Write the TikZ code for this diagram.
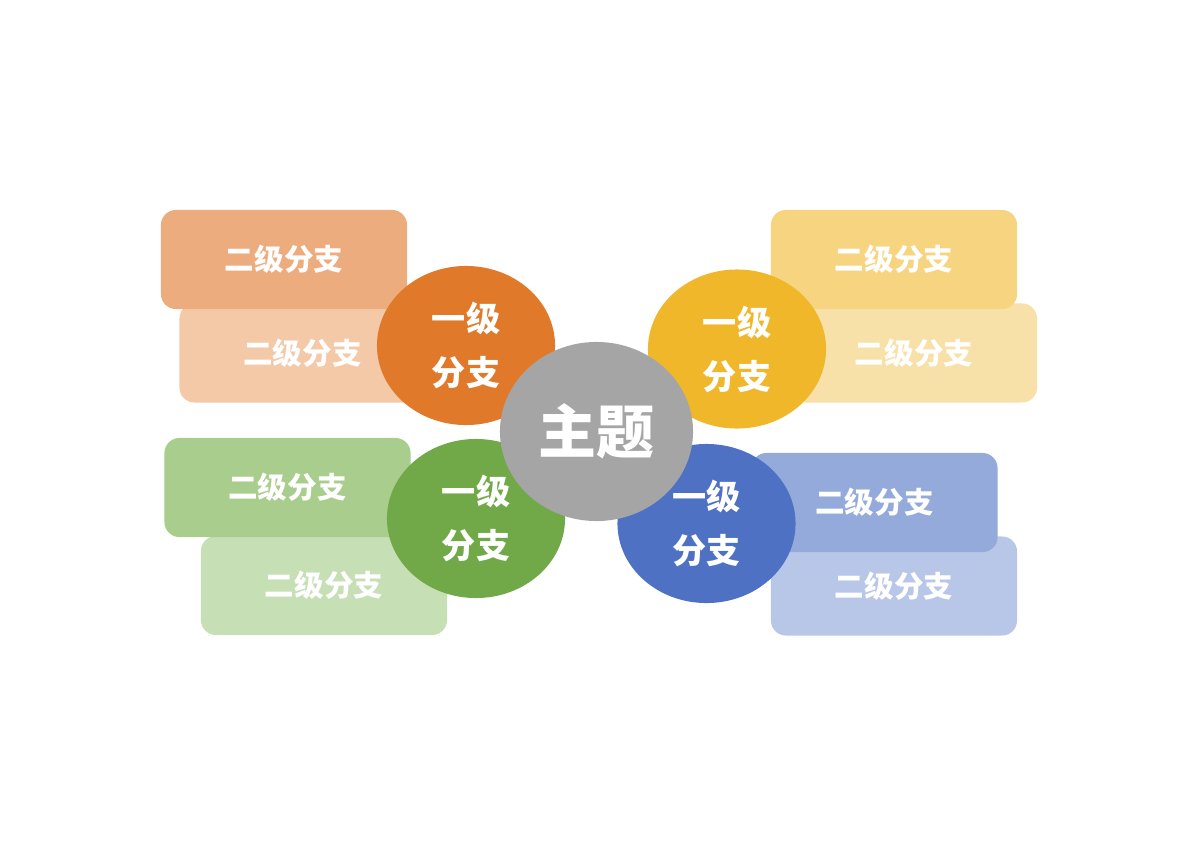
\documentclass[tikz,border=0pt]{standalone}
\usepackage{fontspec}
\setmainfont{Noto Sans CJK SC}
\usepackage{xcolor}
\usepackage{tikz}
\usetikzlibrary{shapes.geometric}

\definecolor{orgA}{HTML}{E07A2A}
\definecolor{orgB}{HTML}{EDAC7D}
\definecolor{orgC}{HTML}{F3C9A8}
\definecolor{yelA}{HTML}{F0B72A}
\definecolor{yelB}{HTML}{F7D47F}
\definecolor{yelC}{HTML}{F8E1A9}
\definecolor{grnA}{HTML}{71A948}
\definecolor{grnB}{HTML}{A9CD8D}
\definecolor{grnC}{HTML}{C6DFB5}
\definecolor{bluA}{HTML}{4F71C4}
\definecolor{bluB}{HTML}{93AADA}
\definecolor{bluC}{HTML}{B8C6E8}
\definecolor{topicgray}{HTML}{A5A5A5}

\begin{document}
\begin{tikzpicture}[x=0.01cm,y=-0.01cm,
    subbox/.style={rectangle,rounded corners=0.15cm,minimum width=2.46cm,minimum height=0.99cm,inner sep=0pt,text=white,font=\bfseries\fontsize{8.4}{10}\selectfont},
    branch/.style={ellipse,minimum width=1.78cm,minimum height=1.59cm,inner sep=0pt,text=white,align=center,font=\bfseries\fontsize{9.7}{15.4}\selectfont},
    topic/.style={ellipse,fill=topicgray,minimum width=1.93cm,minimum height=1.79cm,inner sep=0pt,text=white,font=\bfseries\fontsize{16.5}{18}\selectfont}]
  \useasboundingbox (0,0) rectangle (1200,848);
  % orange, upper left
  \node[subbox,fill=orgC] (o2) at (302.5,353) {二级分支};
  \node[subbox,fill=orgB] (o1) at (284,259.5) {二级分支};
  \node[branch,fill=orgA] (o) at (466,345.5) {一级\\分支};
  % yellow, upper right
  \node[subbox,fill=yelC] (y2) at (914,353) {二级分支};
  \node[subbox,fill=yelB] (y1) at (894,259.5) {二级分支};
  \node[branch,fill=yelA] (y) at (737,349) {一级\\分支};
  % green, lower left
  \node[subbox,fill=grnC] (g2) at (324,585.5) {二级分支};
  \node[subbox,fill=grnB] (g1) at (287.5,487.5) {二级分支};
  \node[branch,fill=grnA] (g) at (476,518.5) {一级\\分支};
  % blue, lower right
  \node[subbox,fill=bluC] (b2) at (894,586) {二级分支};
  \node[subbox,fill=bluB] (b1) at (874.5,502.5) {二级分支};
  \node[branch,fill=bluA] (b) at (706.5,523.5) {一级\\分支};
  % centre
  \node[topic] (t) at (596.5,431.5) {主题};
\end{tikzpicture}
\end{document}
